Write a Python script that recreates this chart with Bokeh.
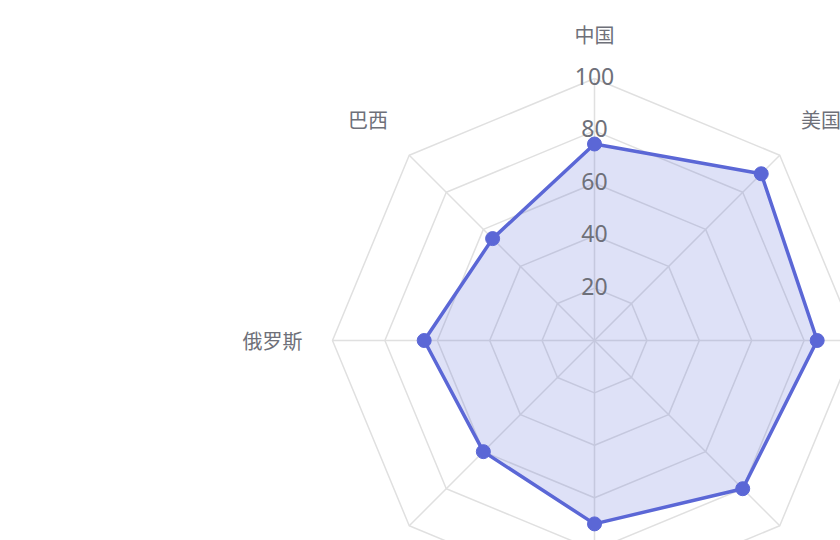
import numpy as np

from bokeh.plotting import figure
from bokeh.models import ColumnDataSource, Range1d
from bokeh.core.properties import value
from bokeh.embed import file_html
from bokeh.resources import INLINE

# -----------------------------
# DATA
# -----------------------------
paises = ["中国", "美国", "日本", "德国", "英国", "法国", "俄罗斯", "巴西"]
valores = [75, 90, 85, 80, 70, 60, 65, 55]
niveles = [20, 40, 60, 80, 100]
etiquetas_nivel = ["20", "40", "60", "80", "100"]
maximo = 100

# -----------------------------
# GEOMETRY
# -----------------------------
n = len(paises)
angulos = np.pi / 2 - np.arange(n) * 2 * np.pi / n  # clockwise from top

px_por_unidad = 2.62  # 100 -> ~262 px
ancho, alto = 840, 540
cx_px, cy_px = 594, 340  # center inside the canvas (from top-left)

x0, x1 = -cx_px / px_por_unidad, (ancho - cx_px) / px_por_unidad
y0, y1 = -(alto - cy_px) / px_por_unidad, cy_px / px_por_unidad

p = figure(
    width=ancho,
    height=alto,
    x_range=Range1d(x0, x1),
    y_range=Range1d(y0, y1),
    output_backend="svg",
    toolbar_location=None,
    min_border=0,
)
p.axis.visible = False
p.grid.visible = False
p.outline_line_color = None
p.background_fill_color = "white"

# -----------------------------
# GRID (rings + spokes)
# -----------------------------
color_rejilla = "#e0e0e0"
for nivel in niveles:
    xs = list(nivel * np.cos(angulos)) + [nivel * np.cos(angulos[0])]
    ys = list(nivel * np.sin(angulos)) + [nivel * np.sin(angulos[0])]
    p.line(xs, ys, line_color=color_rejilla, line_width=1.5)

p.segment(
    x0=[0] * n, y0=[0] * n,
    x1=list(maximo * np.cos(angulos)), y1=list(maximo * np.sin(angulos)),
    line_color=color_rejilla, line_width=1.5,
)

# -----------------------------
# SERIES
# -----------------------------
color = "#5b67d6"
vx = list(np.array(valores) * np.cos(angulos))
vy = list(np.array(valores) * np.sin(angulos))

p.patch(vx, vy, fill_color=color, fill_alpha=0.2, line_color=None)
p.line(vx + [vx[0]], vy + [vy[0]], line_color=color, line_width=3.5)
p.scatter(vx, vy, size=14, fill_color=color, line_color=color)

# -----------------------------
# TICK LABELS (vertical axis)
# -----------------------------
src_ticks = ColumnDataSource(data=dict(x=[0] * len(niveles), y=niveles, t=etiquetas_nivel))
p.text("x", "y", text="t", source=src_ticks,
       text_align="center", text_baseline="middle", y_offset=-2,
       text_font=value("Noto Sans"), text_font_size="23px", text_color="#6e7079")

# -----------------------------
# CATEGORY LABELS (only those that land inside the canvas)
# -----------------------------
radio_nombre = 292 / px_por_unidad
lx, ly, lt, al, bl = [], [], [], [], []
for nombre, a in zip(paises, angulos):
    c, s = np.cos(a), np.sin(a)
    x, y = radio_nombre * c, radio_nombre * s
    if not (x0 < x < x1 and y0 < y < y1):
        continue
    lx.append(x)
    ly.append(y)
    lt.append(nombre)
    al.append("left" if c > 0.01 else ("right" if c < -0.01 else "center"))
    bl.append("bottom" if s > 0.01 else ("top" if s < -0.01 else "middle"))

src_nombres = ColumnDataSource(data=dict(x=lx, y=ly, t=lt, al=al, bl=bl))
p.text("x", "y", text="t", source=src_nombres,
       text_align="al", text_baseline="bl",
       text_font=value("Noto Sans CJK SC"), text_font_size="20px", text_color="#6e7079")

open("out.html", "w").write(file_html(p, INLINE))
